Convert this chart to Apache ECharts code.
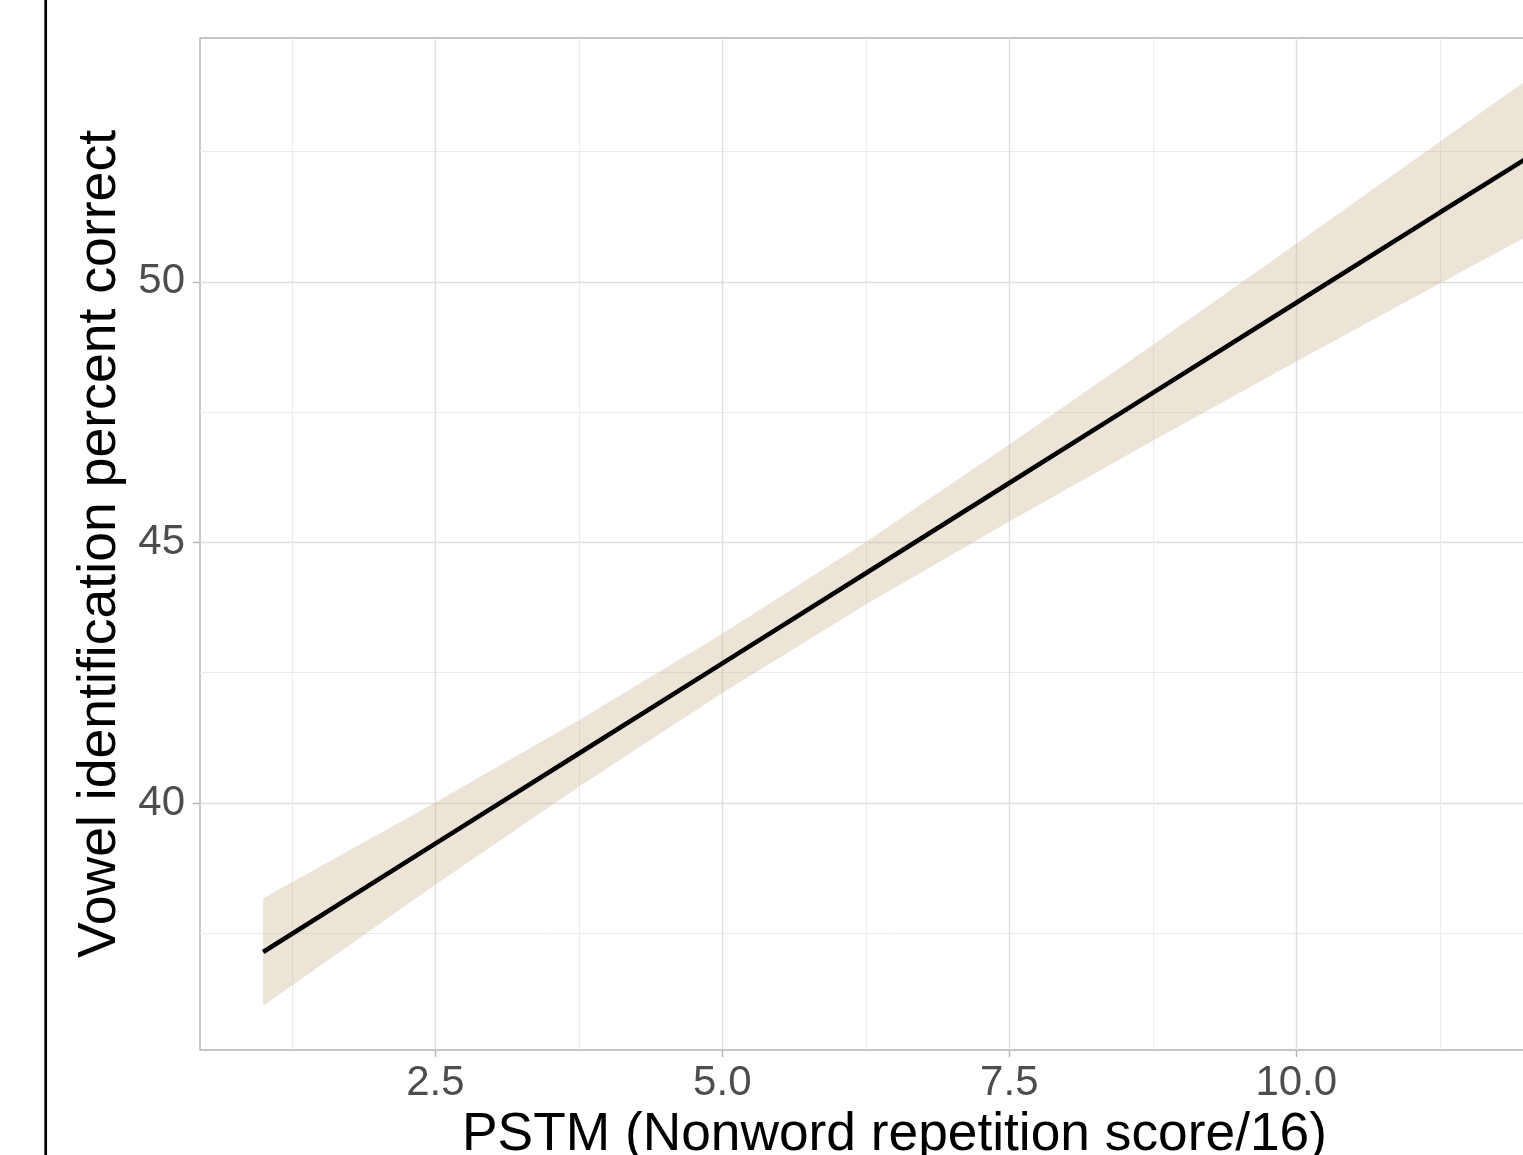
<!DOCTYPE html>
<html>
<head>
<meta charset="utf-8">
<script src="https://cdn.jsdelivr.net/npm/echarts@6/dist/echarts.min.js"></script>
<style>
  html, body { margin: 0; padding: 0; background: #fff; overflow: hidden; width: 1523px; height: 1155px; }
  #chart { width: 1650px; height: 1200px; }
</style>
</head>
<body>
<div id="chart"></div>
<script>
// PSTM score (x) at which the fitted line and its confidence band are read
const pstm = [1, 2.5, 3.75, 5, 6.25, 7.5, 8.75, 10, 11.25, 12];
// fitted vowel identification percent correct
const fitValues = [37.14, 39.22, 40.95, 42.68, 44.41, 46.14, 47.87, 49.6, 51.33, 52.36];
// lower and upper confidence bounds
const lowerValues = [36.11, 38.43, 40.31, 42.11, 43.81, 45.4, 46.95, 48.47, 49.97, 50.86];
const upperValues = [38.17, 40.01, 41.59, 43.25, 45.01, 46.88, 48.79, 50.73, 52.69, 53.86];

// axis ticks
const xMajorTicks = [2.5, 5, 7.5, 10, 12.5];
const xMinorTicks = [1.25, 3.75, 6.25, 8.75, 11.25];
const yMajorTicks = [40, 45, 50];
const yMinorTicks = [37.5, 42.5, 47.5, 52.5];

const xTitle = 'PSTM (Nonword repetition score/16)';
const yTitle = 'Vowel identification percent correct';

const FONT = '"Liberation Sans", Arial, Helvetica, sans-serif';
const chart = echarts.init(document.getElementById('chart'), null, { renderer: 'canvas' });

const xRange = { min: 0.45, max: 12.55 };
const yRange = { min: 35.26, max: 54.68 };

const option = {
  animation: false,
  backgroundColor: '#ffffff',
  grid: {
    left: 200, top: 38, right: 61, bottom: 150,
    show: true, borderColor: '#b3b3b3', borderWidth: 1.4, backgroundColor: 'transparent'
  },
  xAxis: [
    {
      type: 'value', min: xRange.min, max: xRange.max, position: 'bottom',
      axisLine: { show: false },
      axisTick: { show: true, customValues: xMajorTicks, length: 7, lineStyle: { color: '#b3b3b3', width: 1.4 } },
      axisLabel: {
        customValues: xMajorTicks, margin: 12, color: '#4d4d4d', fontSize: 42, fontFamily: FONT,
        formatter: v => Number(v).toFixed(1)
      },
      splitLine: { show: true, lineStyle: { color: '#dedede', width: 1.4 } },
      name: xTitle, nameLocation: 'middle', nameGap: 52,
      nameTextStyle: { color: '#000', fontSize: 53.3, fontFamily: FONT }
    },
    {
      type: 'value', min: xRange.min, max: xRange.max, position: 'bottom',
      axisLine: { show: false },
      axisTick: { show: false, customValues: xMinorTicks },
      axisLabel: { show: false, customValues: xMinorTicks },
      splitLine: { show: true, lineStyle: { color: '#ebebeb', width: 1 } }
    }
  ],
  yAxis: [
    {
      type: 'value', min: yRange.min, max: yRange.max, position: 'left',
      axisLine: { show: false },
      axisTick: { show: true, customValues: yMajorTicks, length: 7, lineStyle: { color: '#b3b3b3', width: 1.4 } },
      axisLabel: { customValues: yMajorTicks, margin: 15, color: '#4d4d4d', fontSize: 42, fontFamily: FONT },
      splitLine: { show: true, lineStyle: { color: '#dedede', width: 1.4 } },
      name: yTitle, nameLocation: 'middle', nameGap: 72, nameRotate: 90,
      nameTextStyle: { color: '#000', fontSize: 53.6, fontFamily: FONT }
    },
    {
      type: 'value', min: yRange.min, max: yRange.max, position: 'left',
      axisLine: { show: false },
      axisTick: { show: false, customValues: yMinorTicks },
      axisLabel: { show: false, customValues: yMinorTicks },
      splitLine: { show: true, lineStyle: { color: '#ebebeb', width: 1 } }
    }
  ],
  series: [
    {
      type: 'custom',
      xAxisIndex: 0, yAxisIndex: 0,
      data: [0],
      z: 3,
      silent: true,
      renderItem: function (params, api) {
        const pts = [];
        for (let i = 0; i < pstm.length; i++) pts.push(api.coord([pstm[i], upperValues[i]]));
        for (let i = pstm.length - 1; i >= 0; i--) pts.push(api.coord([pstm[i], lowerValues[i]]));
        return {
          type: 'polygon',
          shape: { points: pts, smooth: 0 },
          style: { fill: 'rgba(200,180,145,0.36)', stroke: null }
        };
      }
    },
    {
      type: 'line',
      xAxisIndex: 0, yAxisIndex: 0,
      data: pstm.map((x, i) => [x, fitValues[i]]),
      symbol: 'none',
      z: 4,
      lineStyle: { color: '#000000', width: 4.6 },
      silent: true
    }
  ],
  graphic: [
    {
      type: 'line', z: 10,
      shape: { x1: 45.7, y1: 0, x2: 45.7, y2: 1200 },
      style: { stroke: '#000', lineWidth: 2.7 }
    }
  ]
};
chart.setOption(option);
</script>
</body>
</html>
